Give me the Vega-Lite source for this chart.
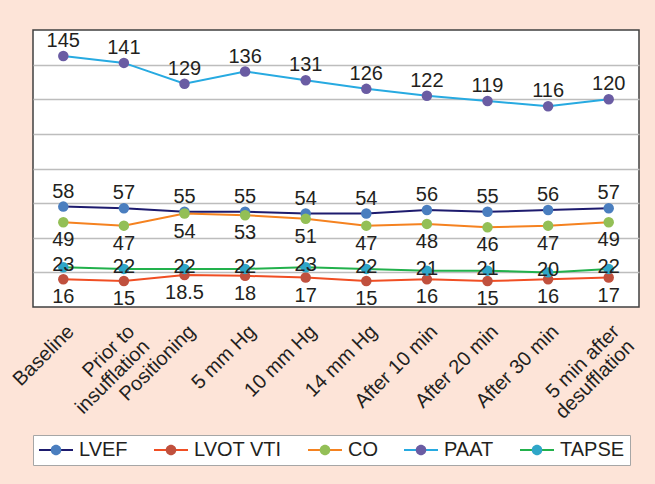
{
  "$schema": "https://vega.github.io/schema/vega-lite/v6.json",
  "width": 606,
  "height": 277,
  "autosize": {"type": "none"},
  "padding": {"left": 33, "top": 30, "right": 16, "bottom": 177},
  "background": "#fde4d8",
  "config": {
    "view": {"stroke": "#404040", "strokeWidth": 1.5, "fill": "white"},
    "font": "Liberation Sans",
    "text": {"font": "Liberation Sans"}
  },
  "data": {
    "values": [
      {"time": "Baseline", "series": "LVEF", "value": 58},
      {"time": "Baseline", "series": "LVOT VTI", "value": 16},
      {"time": "Baseline", "series": "CO", "value": 49},
      {"time": "Baseline", "series": "PAAT", "value": 145},
      {"time": "Baseline", "series": "TAPSE", "value": 23},
      {"time": "Prior to insufflation", "series": "LVEF", "value": 57},
      {"time": "Prior to insufflation", "series": "LVOT VTI", "value": 15},
      {"time": "Prior to insufflation", "series": "CO", "value": 47},
      {"time": "Prior to insufflation", "series": "PAAT", "value": 141},
      {"time": "Prior to insufflation", "series": "TAPSE", "value": 22},
      {"time": "Positioning", "series": "LVEF", "value": 55},
      {"time": "Positioning", "series": "LVOT VTI", "value": 18.5},
      {"time": "Positioning", "series": "CO", "value": 54},
      {"time": "Positioning", "series": "PAAT", "value": 129},
      {"time": "Positioning", "series": "TAPSE", "value": 22},
      {"time": "5 mm Hg", "series": "LVEF", "value": 55},
      {"time": "5 mm Hg", "series": "LVOT VTI", "value": 18},
      {"time": "5 mm Hg", "series": "CO", "value": 53},
      {"time": "5 mm Hg", "series": "PAAT", "value": 136},
      {"time": "5 mm Hg", "series": "TAPSE", "value": 22},
      {"time": "10 mm Hg", "series": "LVEF", "value": 54},
      {"time": "10 mm Hg", "series": "LVOT VTI", "value": 17},
      {"time": "10 mm Hg", "series": "CO", "value": 51},
      {"time": "10 mm Hg", "series": "PAAT", "value": 131},
      {"time": "10 mm Hg", "series": "TAPSE", "value": 23},
      {"time": "14 mm Hg", "series": "LVEF", "value": 54},
      {"time": "14 mm Hg", "series": "LVOT VTI", "value": 15},
      {"time": "14 mm Hg", "series": "CO", "value": 47},
      {"time": "14 mm Hg", "series": "PAAT", "value": 126},
      {"time": "14 mm Hg", "series": "TAPSE", "value": 22},
      {"time": "After 10 min", "series": "LVEF", "value": 56},
      {"time": "After 10 min", "series": "LVOT VTI", "value": 16},
      {"time": "After 10 min", "series": "CO", "value": 48},
      {"time": "After 10 min", "series": "PAAT", "value": 122},
      {"time": "After 10 min", "series": "TAPSE", "value": 21},
      {"time": "After 20 min", "series": "LVEF", "value": 55},
      {"time": "After 20 min", "series": "LVOT VTI", "value": 15},
      {"time": "After 20 min", "series": "CO", "value": 46},
      {"time": "After 20 min", "series": "PAAT", "value": 119},
      {"time": "After 20 min", "series": "TAPSE", "value": 21},
      {"time": "After 30 min", "series": "LVEF", "value": 56},
      {"time": "After 30 min", "series": "LVOT VTI", "value": 16},
      {"time": "After 30 min", "series": "CO", "value": 47},
      {"time": "After 30 min", "series": "PAAT", "value": 116},
      {"time": "After 30 min", "series": "TAPSE", "value": 20},
      {"time": "5 min after desufflation", "series": "LVEF", "value": 57},
      {"time": "5 min after desufflation", "series": "LVOT VTI", "value": 17},
      {"time": "5 min after desufflation", "series": "CO", "value": 49},
      {"time": "5 min after desufflation", "series": "PAAT", "value": 120},
      {"time": "5 min after desufflation", "series": "TAPSE", "value": 22}
    ]
  },
  "encoding": {
    "x": {
      "field": "time",
      "type": "nominal",
      "sort": ["Baseline", "Prior to insufflation", "Positioning", "5 mm Hg", "10 mm Hg", "14 mm Hg", "After 10 min", "After 20 min", "After 30 min", "5 min after desufflation"],
      "scale": {"type": "point", "padding": 0.5},
      "axis": {
        "title": null,
        "labelAngle": -45,
        "labelAlign": "right",
        "labelBaseline": "top",
        "labelFont": "Liberation Sans",
        "labelFontSize": 20,
        "labelColor": "#231f20",
        "labelLineHeight": 21,
        "ticks": false,
        "tickSize": 0,
        "domain": false,
        "grid": false,
        "labelPadding": 14,
        "labelOffset": 0,
        "labelOverlap": false,
        "labelLimit": 0,
        "labelBound": false,
        "labelFlush": false,
        "labelExpr": "datum.value == 'Prior to insufflation' ? ['Prior to', 'insufflation'] : datum.value == '5 min after desufflation' ? ['5 min after', 'desufflation'] : datum.value"
      }
    },
    "y": {
      "field": "value",
      "type": "quantitative",
      "scale": {"domain": [0, 160], "nice": false, "zero": true},
      "axis": {
        "title": null,
        "labels": false,
        "ticks": false,
        "domain": false,
        "grid": true,
        "values": [20, 40, 60, 80, 100, 120, 140],
        "gridColor": "#bdbdbd",
        "gridWidth": 1.5
      }
    }
  },
  "layer": [
    {
      "mark": {"type": "line", "strokeWidth": 2},
      "encoding": {
        "color": {
          "field": "series",
          "type": "nominal",
          "scale": {
            "domain": ["LVEF", "LVOT VTI", "CO", "PAAT", "TAPSE"],
            "range": ["#1d1b6e", "#f04e23", "#f58220", "#27aae1", "#22b14c"]
          },
          "legend": {
            "title": null,
            "orient": "none",
            "legendX": 0,
            "legendY": 405,
            "direction": "horizontal",
            "columns": 5,
            "columnPadding": 25,
            "symbolType": "stroke",
            "symbolSize": 1156,
            "symbolStrokeWidth": 2,
            "clipHeight": 20,
            "labelFont": "Liberation Sans",
            "labelFontSize": 20,
            "labelColor": "#231f20",
            "labelOffset": 5,
            "labelLimit": 0,
            "padding": 5,
            "fillColor": "white",
            "strokeColor": "#a6a6a6",
            "zindex": 1
          }
        }
      }
    },
    {
      "mark": {"type": "point", "filled": true, "size": 110, "opacity": 1},
      "encoding": {
        "fill": {
          "field": "series",
          "type": "nominal",
          "sort": ["LVEF", "LVOT VTI", "CO", "PAAT", "TAPSE"],
          "scale": {
            "range": ["#4a7ebf", "#c0503d", "#93bf56", "#6a5ca3", "#2fa6c8"]
          },
          "legend": {
            "title": null,
            "orient": "none",
            "legendX": 0,
            "legendY": 405,
            "direction": "horizontal",
            "columns": 5,
            "columnPadding": 25,
            "symbolType": "M0.31,0A0.31,0.31,0,1,1,-0.31,0A0.31,0.31,0,1,1,0.31,0Z",
            "symbolSize": 1156,
            "symbolStrokeWidth": 2,
            "symbolStrokeColor": "transparent",
            "clipHeight": 20,
            "labelFont": "Liberation Sans",
            "labelFontSize": 20,
            "labelColor": "transparent",
            "labelOffset": 5,
            "labelLimit": 0,
            "padding": 5,
            "zindex": 2
          }
        }
      }
    },
    {
      "transform": [{"filter": {"field": "series", "oneOf": ["LVEF", "PAAT"]}}],
      "mark": {"type": "text", "dy": -9, "fontSize": 20, "color": "#231f20", "baseline": "alphabetic"},
      "encoding": {"text": {"field": "value", "type": "quantitative", "format": ""}}
    },
    {
      "transform": [{"filter": {"field": "series", "equal": "TAPSE"}}],
      "mark": {"type": "text", "dy": 4, "fontSize": 20, "color": "#231f20", "baseline": "alphabetic"},
      "encoding": {"text": {"field": "value", "type": "quantitative", "format": ""}}
    },
    {
      "transform": [{"filter": {"field": "series", "oneOf": ["CO", "LVOT VTI"]}}],
      "mark": {"type": "text", "dy": 24, "fontSize": 20, "color": "#231f20", "baseline": "alphabetic"},
      "encoding": {"text": {"field": "value", "type": "quantitative", "format": ""}}
    }
  ]
}
